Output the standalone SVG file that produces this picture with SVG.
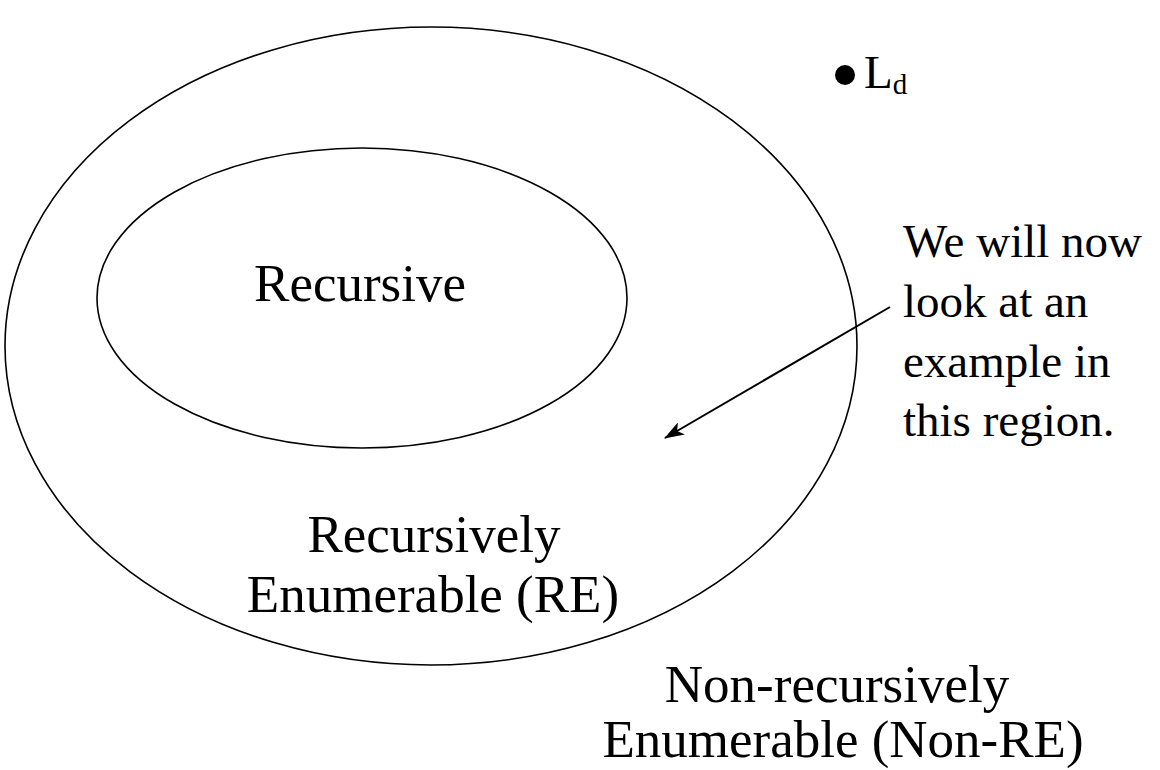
<svg xmlns="http://www.w3.org/2000/svg" width="1160" height="770" viewBox="0 0 1160 770">
<style>
  .sh{fill:none;stroke:#000;stroke-width:1.6}
  .big{font-family:"Liberation Serif","Times New Roman",serif;font-size:53px;fill:#000}
  .note{font-family:"Liberation Serif","Times New Roman",serif;font-size:47px;fill:#000}
</style>
<defs>
  <marker id="ah" viewBox="0 0 20 14" refX="19" refY="7" markerWidth="20" markerHeight="14" markerUnits="userSpaceOnUse" orient="auto">
    <path d="M0,0 L20,7 L0,14 L5,7 z" fill="#000"/>
  </marker>
</defs>
<rect width="1160" height="770" fill="#fff"/>
<g id="outer">
  <ellipse class="sh" cx="431" cy="346" rx="426" ry="319"/>
  <text class="big" x="434" y="552" text-anchor="middle">Recursively</text>
  <text class="big" x="433" y="612" text-anchor="middle">Enumerable (RE)</text>
</g>
<g id="inner">
  <ellipse class="sh" cx="362" cy="298" rx="265" ry="150"/>
  <text class="big" x="360" y="301" text-anchor="middle" font-size="54">Recursive</text>
</g>
<g id="nonre">
  <text class="big" x="837" y="702" text-anchor="middle" font-size="59">Non-recursively</text>
  <text class="big" x="843" y="757" text-anchor="middle" font-size="59">Enumerable (Non-RE)</text>
</g>
<g id="ld">
  <circle cx="845" cy="75" r="10" fill="#000"/>
  <text class="note" x="864" y="88" font-size="45">L<tspan font-size="29" dy="6">d</tspan></text>
</g>
<g id="note">
  <text class="note" x="903" y="257">We will now</text>
  <text class="note" x="903" y="317">look at an</text>
  <text class="note" x="903" y="377">example in</text>
  <text class="note" x="903" y="436">this region.</text>
</g>
<g id="connectors">
  <line x1="890" y1="307" x2="665" y2="438" stroke="#000" stroke-width="2" marker-end="url(#ah)"/>
</g>
</svg>
